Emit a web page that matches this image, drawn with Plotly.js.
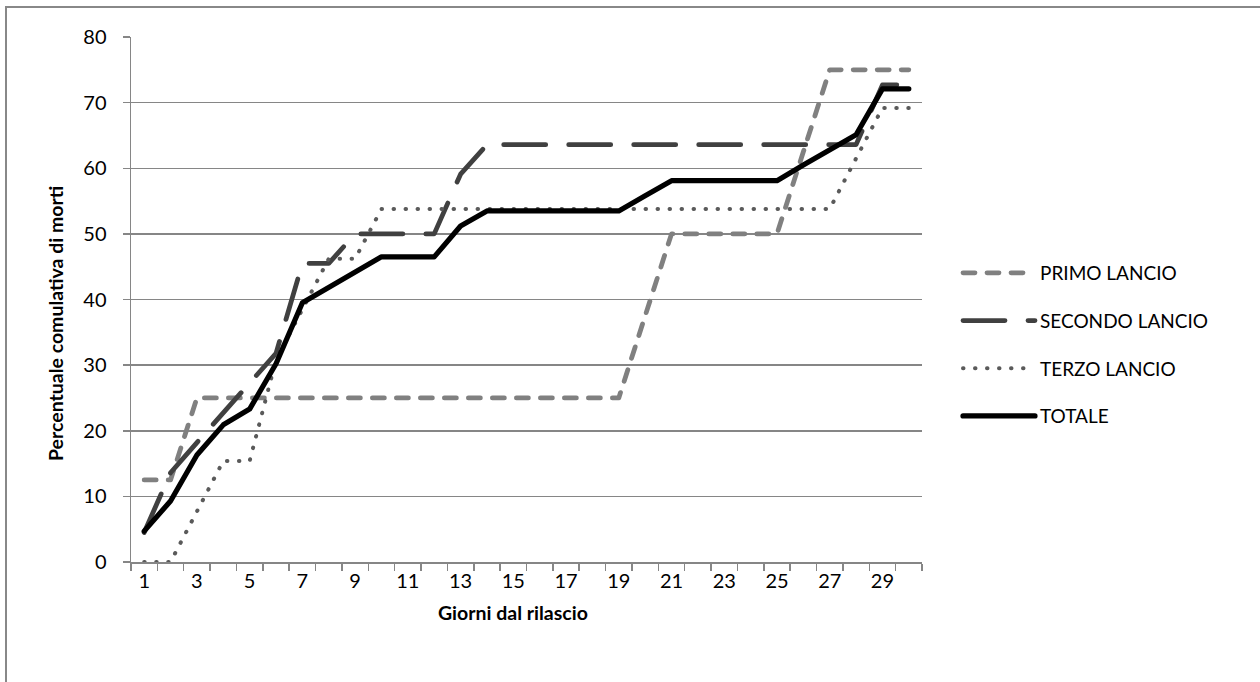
<!DOCTYPE html>
<html>
<head>
<meta charset="utf-8">
<script src="https://cdn.plot.ly/plotly-3.0.1.min.js"></script>
<style>
  html, body { margin: 0; padding: 0; background: #fff; }
  #chart { width: 1260px; height: 682px; }
  .js-line, .legendlines path { stroke-linecap: round; stroke-linejoin: round; }
</style>
</head>
<body>
<div id="chart"></div>
<script>
const days = [1,2,3,4,5,6,7,8,9,10,11,12,13,14,15,16,17,18,19,20,21,22,23,24,25,26,27,28,29,30];
const tickDays = [1,3,5,7,9,11,13,15,17,19,21,23,25,27,29];
const seriesNames = ["PRIMO LANCIO", "SECONDO LANCIO", "TERZO LANCIO", "TOTALE"];

const primo = [12.5,12.5,25,25,25,25,25,25,25,25,25,25,25,25,25,25,25,25,25,37.5,50,50,50,50,50,62.5,75,75,75,75];
const secondo = [4.5,13.6,18.2,22.7,27.3,31.8,45.5,45.5,50,50,50,50,59.1,63.6,63.6,63.6,63.6,63.6,63.6,63.6,63.6,63.6,63.6,63.6,63.6,63.6,63.6,63.6,72.7,72.7];
const terzo = [0,0,7.7,15.4,15.4,30.8,38.5,46.2,46.2,53.8,53.8,53.8,53.8,53.8,53.8,53.8,53.8,53.8,53.8,53.8,53.8,53.8,53.8,53.8,53.8,53.8,53.8,61.5,69.2,69.2];
const totale = [4.7,9.3,16.3,20.9,23.3,30.2,39.5,41.9,44.2,46.5,46.5,46.5,51.2,53.5,53.5,53.5,53.5,53.5,53.5,55.8,58.1,58.1,58.1,58.1,58.1,60.5,62.8,65.1,72.1,72.1];

const FONT = "Lato, 'Open Sans', 'Noto Sans', sans-serif";
const GRID = "#868686";

const traces = [
  {x: days, y: primo, name: seriesNames[0], legendgroup: "a", mode: "lines",
   line: {color: "#808080", width: 4.8, dash: "12px,12px"}},
  {x: days, y: secondo, name: seriesNames[1], legendgroup: "b", mode: "lines",
   line: {color: "#404040", width: 4.8, dash: "42px,23px"}},
  {x: days, y: terzo, name: seriesNames[2], legendgroup: "c", mode: "lines",
   line: {color: "#5a5a5a", width: 4, dash: "0.5px,11.5px"}},
  {x: days, y: totale, name: seriesNames[3], legendgroup: "d", mode: "lines",
   line: {color: "#000000", width: 5.2}}
];

const L = 131, R = 922, T = 37, B = 562;
const pw = R - L, ph = B - T;
const px = v => (v - L) / pw;
const py = v => (B - v) / ph;

const layout = {
  width: 1260, height: 682,
  margin: {l: L, r: 1260 - R, t: T, b: 682 - B, pad: 0},
  paper_bgcolor: "#ffffff", plot_bgcolor: "#ffffff",
  font: {family: FONT, size: 19, color: "#000000"},
  showlegend: true,
  legend: {
    x: px(958), xanchor: "left", y: py(254), yanchor: "top",
    font: {family: FONT, size: 19, color: "#000"},
    itemwidth: 72, tracegroupgap: 20, bgcolor: "rgba(0,0,0,0)",
    traceorder: "grouped"
  },
  xaxis: {
    range: [0.5, 30.5], type: "linear",
    tickmode: "array", tickvals: tickDays, ticktext: tickDays.map(String),
    ticks: "", showgrid: false, zeroline: false,
    showline: true, linecolor: GRID, linewidth: 1.5,
    tickfont: {family: FONT, size: 20},
    minor: {ticks: "outside", tick0: 0.5, dtick: 1, ticklen: 7, tickcolor: GRID, tickwidth: 1.5, showgrid: false},
    fixedrange: true
  },
  yaxis: {
    range: [0, 80], dtick: 10, tick0: 0,
    ticks: "outside", ticklen: 7, tickcolor: GRID, tickwidth: 1.5,
    showgrid: true, gridcolor: GRID, gridwidth: 1.5,
    zeroline: false, showline: true, linecolor: GRID, linewidth: 1.5,
    tickfont: {family: FONT, size: 20},
    ticklabelstandoff: 12,
    fixedrange: true
  },
  annotations: [
    {text: "<b>Giorni dal rilascio</b>", xref: "paper", yref: "paper",
     x: px(513), y: py(612), xanchor: "center", yanchor: "middle", showarrow: false,
     font: {family: FONT, size: 19.5, color: "#000"}},
    {text: "<b>Percentuale comulativa di morti</b>", xref: "paper", yref: "paper",
     x: px(55), y: py(324), xanchor: "center", yanchor: "middle", showarrow: false,
     textangle: -90, font: {family: FONT, size: 19.5, color: "#000"}}
  ],
  shapes: [
    {type: "rect", xref: "paper", yref: "paper",
     x0: px(6), x1: px(1300), y0: py(720), y1: py(7),
     line: {color: "#888888", width: 2}, fillcolor: "rgba(0,0,0,0)", layer: "below"}
  ]
};

Plotly.newPlot("chart", traces, layout, {displayModeBar: false, staticPlot: true});
</script>
</body>
</html>
